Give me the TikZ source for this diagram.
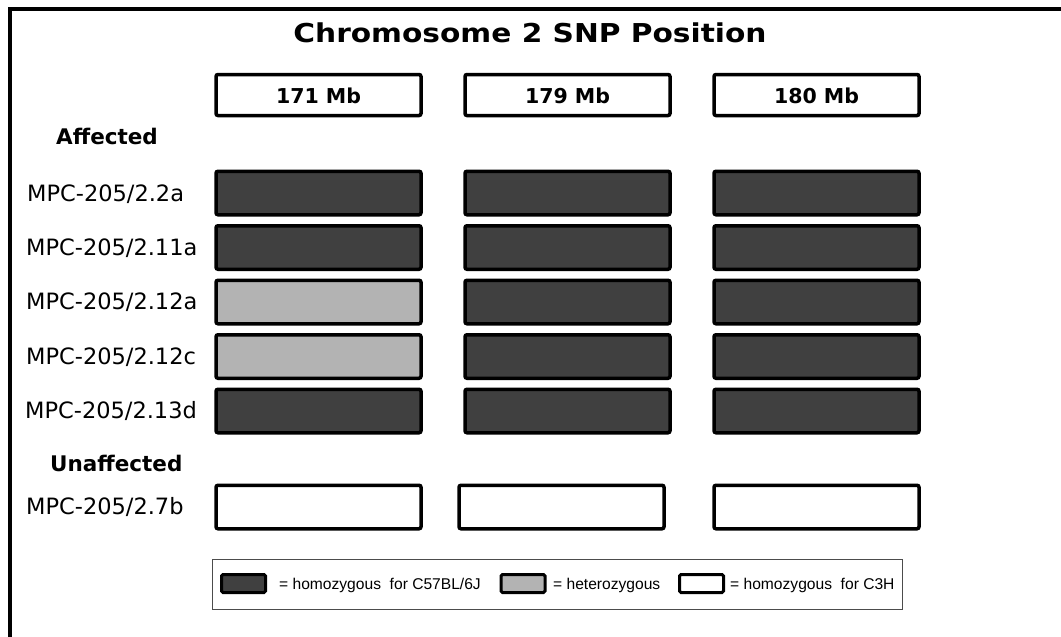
\documentclass[tikz,border=0pt]{standalone}
\usepackage{fontspec}
\setmainfont{DejaVu Sans}
\newfontfamily\legendfont{Liberation Sans}
\definecolor{homBsix}{HTML}{404040}
\definecolor{hetgray}{HTML}{B3B3B3}
\begin{document}
\begin{tikzpicture}[x=1pt,y=-1pt,
  cell/.style={draw=black, line width=3.5pt, rounded corners=2pt,
    minimum width=205pt, minimum height=43.5pt, inner sep=0pt},
  b6/.style={cell, fill=homBsix},
  het/.style={cell, fill=hetgray},
  c3h/.style={cell, fill=white},
  posbox/.style={cell, fill=white, minimum height=41pt},
  postext/.style={anchor=base, inner sep=0pt, font=\bfseries\fontsize{20.5}{24}\selectfont},
  sample/.style={anchor=base west, inner sep=0pt, font=\fontsize{22.5}{26}\selectfont},
  group/.style={anchor=base west, inner sep=0pt, font=\bfseries\fontsize{21.5}{25}\selectfont},
  swatch/.style={draw=black, line width=3pt, rounded corners=1.5pt,
    minimum width=44pt, minimum height=18pt, inner sep=0pt},
  legtext/.style={anchor=base west, inner sep=0pt, font=\legendfont\fontsize{15.6}{19}\selectfont}]

\useasboundingbox (0,0) rectangle (1061,637);
\fill[white] (0,0) rectangle (1061,637);

% outer frame: top and left rules only
\draw[line width=4pt] (1061,9) -- (10,9) -- (10,637);

% title
\node[anchor=base, inner sep=0pt, font=\bfseries\fontsize{26}{30}\selectfont] (title) at (530,42)
  {\scalebox{1.14}[1]{Chromosome 2 SNP Position}};

% SNP position headers
\node[posbox] (p171) at (318.5,95) {};
\node[posbox] (p179) at (567.5,95) {};
\node[posbox] (p180) at (816.5,95) {};
\node[postext] (t171) at (318.5,103) {171 Mb};
\node[postext] (t179) at (567.5,103) {179 Mb};
\node[postext] (t180) at (816.5,103) {180 Mb};

% group headings
\node[group] (aff) at (56,144) {Affected};
\node[group] (unaff) at (50,471) {Unaffected};

% affected animals
\node[sample] (s1) at (27,201) {MPC-205/2.2a};
\node[b6] (a1) at (318.5,193) {};
\node[b6] (b1) at (567.5,193) {};
\node[b6] (c1) at (816.5,193) {};

\node[sample] (s2) at (26,255.5) {MPC-205/2.11a};
\node[b6] (a2) at (318.5,247.5) {};
\node[b6] (b2) at (567.5,247.5) {};
\node[b6] (c2) at (816.5,247.5) {};

\node[sample] (s3) at (26,309.5) {MPC-205/2.12a};
\node[het] (a3) at (318.5,302) {};
\node[b6] (b3) at (567.5,302) {};
\node[b6] (c3) at (816.5,302) {};

\node[sample] (s4) at (26,364) {MPC-205/2.12c};
\node[het] (a4) at (318.5,356.5) {};
\node[b6] (b4) at (567.5,356.5) {};
\node[b6] (c4) at (816.5,356.5) {};

\node[sample] (s5) at (25,418.5) {MPC-205/2.13d};
\node[b6] (a5) at (318.5,411) {};
\node[b6] (b5) at (567.5,411) {};
\node[b6] (c5) at (816.5,411) {};

% unaffected animal
\node[sample] (s6) at (26,514.5) {MPC-205/2.7b};
\node[c3h] (a6) at (318.5,507) {};
\node[c3h] (b6) at (561.5,507) {};
\node[c3h] (c6) at (816.5,507) {};

% key
\node[draw=black!70, line width=0.9pt, minimum width=690pt, minimum height=50pt, inner sep=0pt] (key) at (557,584) {};
\node[swatch, fill=homBsix] (k1) at (243.5,583.5) {};
\node[legtext] (k1t) at (279,589) {= homozygous\ \ for C57BL/6J};
\node[swatch, fill=hetgray] (k2) at (523,583.5) {};
\node[legtext] (k2t) at (553,589) {= heterozygous};
\node[swatch, fill=white] (k3) at (701.5,583.5) {};
\node[legtext] (k3t) at (730,589) {= homozygous\ \ for C3H};
\end{tikzpicture}
\end{document}
